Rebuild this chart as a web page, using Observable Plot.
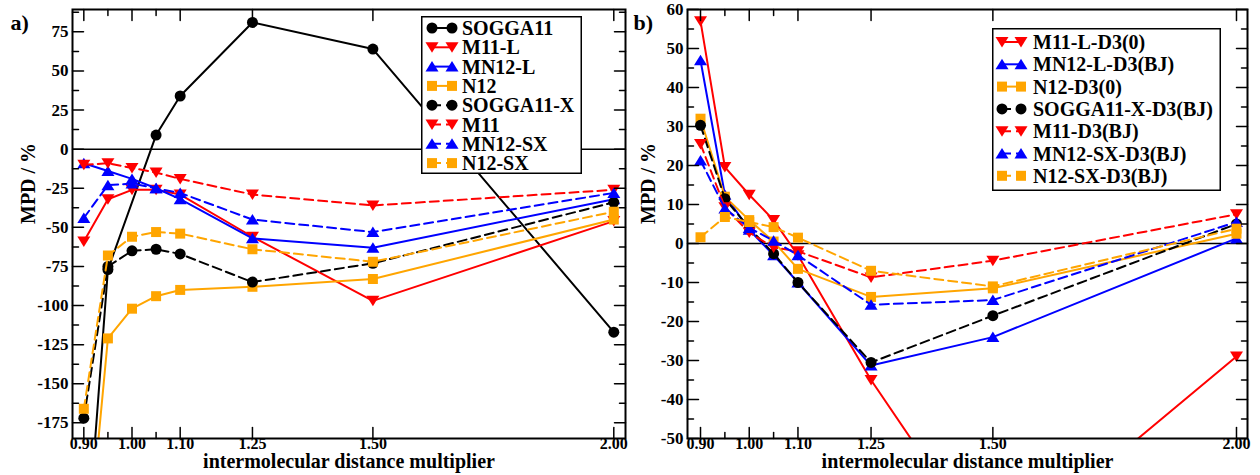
<!DOCTYPE html>
<html>
<head>
<meta charset="utf-8">
<script src="https://cdn.jsdelivr.net/npm/d3@7"></script>
<script src="https://cdn.jsdelivr.net/npm/@observablehq/plot@0.6"></script>
<style>
  html, body { margin: 0; padding: 0; background: #fff; }
  #wrap { position: relative; width: 1260px; height: 475px; display: flex; overflow: hidden;
          font-family: "Liberation Serif", Tinos, "Times New Roman", Times, "DejaVu Serif", "Noto Serif", serif; font-weight: bold; }
  .panel { position: relative; width: 630px; height: 475px; }
  svg text { font-family: "Liberation Serif", Tinos, "Times New Roman", Times, "DejaVu Serif", "Noto Serif", serif !important; }
</style>
</head>
<body>
<div id="wrap">
  <div class="panel" id="pa"></div>
  <div class="panel" id="pb"></div>
</div>
<script>
// ---------- data ----------
const xValues = [0.90, 0.95, 1.00, 1.05, 1.10, 1.25, 1.50, 2.00];
const xMajorTicks = [0.90, 1.00, 1.10, 1.25, 1.50, 2.00];
const xMinorTicks = [0.95, 1.05];
const xTickLabels = ["0.90", "1.00", "1.10", "1.25", "1.50", "2.00"];
const xTitle = "intermolecular distance multiplier";
const yTitle = "MPD / %";

// panel a
const aNames = ["SOGGA11", "M11-L", "MN12-L", "N12", "SOGGA11-X", "M11", "MN12-SX", "N12-SX"];
const aSOGGA11  = [-282, -77, null, 9, 34, 81, 64, -117];
const aM11L     = [-59, -32, -26, -26, -29, -56, -97, -46];
const aMN12L    = [-9, -14, -19, -25, -32, -57, -63, -32];
const aN12      = [-285, -121, -102, -94, -90, -88, -83, -45];
const aSOGGA11X = [-172, -75, -65, -64, -67, -85, -73, -34];
const aM11      = [-10, -9, -12, -15, -19, -29, -36, -26];
const aMN12SX   = [-44, -23, -22, -25, -28, -45, -53, -28];
const aN12SX    = [-166, -68, -56, -53, -54, -64, -72, -40];
const aYMajorTicks = [75, 50, 25, 0, -25, -50, -75, -100, -125, -150, -175];
const aYMinorTicks = [87.5, 62.5, 37.5, 12.5, -12.5, -37.5, -62.5, -87.5, -112.5, -137.5, -162.5];

// panel b
const bNames = ["M11-L-D3(0)", "MN12-L-D3(BJ)", "N12-D3(0)", "SOGGA11-X-D3(BJ)", "M11-D3(BJ)", "MN12-SX-D3(BJ)", "N12-SX-D3(BJ)"];
const bM11L     = [57, 19.6, 12.5, 6, -3, -35, -81, -29];
const bMN12L    = [47, 12.5, 3.5, -3, -10, -31.3, -24, 1.3];
const bN12      = [32, 12, 6, 0.5, -6.5, -13.7, -11.5, 2.5];
const bSOGGA11X = [30.3, 11.5, 4, -2.6, -10, -30.5, -18.5, 5];
const bM11      = [25.5, 9.3, 2.8, -1, -2, -8.7, -4.4, 7.5];
const bMN12SX   = [21.3, 9, 4, 0.7, -3, -15.7, -14.5, 5.5];
const bN12SX    = [1.6, 6.8, 5.5, 4.2, 1.5, -7, -11, 3.8];
const bYMajorTicks = [60, 50, 40, 30, 20, 10, 0, -10, -20, -30, -40, -50];
const bYMinorTicks = [55, 45, 35, 25, 15, 5, -5, -15, -25, -35, -45];

// ---------- styles ----------
const FONT = "'Liberation Serif', Tinos, 'Times New Roman', Times, 'DejaVu Serif', 'Noto Serif', serif";
const RED = "#ff0000", BLUE = "#0000ff", ORANGE = "#ffa500", BLACK = "#000000";
const symCircle = {draw(c) { c.moveTo(5.5, 0); c.arc(0, 0, 5.5, 0, 2 * Math.PI); c.closePath(); }};
const symSquare = {draw(c) { c.moveTo(-5, -5); c.lineTo(5, -5); c.lineTo(5, 5); c.lineTo(-5, 5); c.closePath(); }};
const symTriUp = {draw(c) { c.moveTo(0, -5.5); c.lineTo(6.5, 5); c.lineTo(-6.5, 5); c.closePath(); }};
const symTriDown = {draw(c) { c.moveTo(0, 5.5); c.lineTo(6.5, -5); c.lineTo(-6.5, -5); c.closePath(); }};
const tickShape = {draw(c, l) { c.moveTo(0, 0); c.lineTo(0, -l); }};
const DASH = "9,5";

const aSeries = [
  {name: aNames[0], values: aSOGGA11,  color: BLACK,  symbol: symCircle,  dashed: false},
  {name: aNames[1], values: aM11L,     color: RED,    symbol: symTriDown, dashed: false},
  {name: aNames[2], values: aMN12L,    color: BLUE,   symbol: symTriUp,   dashed: false},
  {name: aNames[3], values: aN12,      color: ORANGE, symbol: symSquare,  dashed: false},
  {name: aNames[4], values: aSOGGA11X, color: BLACK,  symbol: symCircle,  dashed: true},
  {name: aNames[5], values: aM11,      color: RED,    symbol: symTriDown, dashed: true},
  {name: aNames[6], values: aMN12SX,   color: BLUE,   symbol: symTriUp,   dashed: true},
  {name: aNames[7], values: aN12SX,    color: ORANGE, symbol: symSquare,  dashed: true}
];
const bSeries = [
  {name: bNames[0], values: bM11L,     color: RED,    symbol: symTriDown, dashed: false},
  {name: bNames[1], values: bMN12L,    color: BLUE,   symbol: symTriUp,   dashed: false},
  {name: bNames[2], values: bN12,      color: ORANGE, symbol: symSquare,  dashed: false},
  {name: bNames[3], values: bSOGGA11X, color: BLACK,  symbol: symCircle,  dashed: true},
  {name: bNames[4], values: bM11,      color: RED,    symbol: symTriDown, dashed: true},
  {name: bNames[5], values: bMN12SX,   color: BLUE,   symbol: symTriUp,   dashed: true},
  {name: bNames[6], values: bN12SX,    color: ORANGE, symbol: symSquare,  dashed: true}
];

function panel(cfg) {
  const marks = [];
  marks.push(Plot.ruleY([0], {stroke: BLACK, strokeWidth: 1.5}));
  for (const s of cfg.series) {
    const rows = xValues.map((x, i) => ({x, y: s.values[i]})).filter(d => d.y != null);
    marks.push(Plot.line(rows, {x: "x", y: "y", stroke: s.color, strokeWidth: 2,
      strokeDasharray: s.dashed ? DASH : null, clip: true}));
    marks.push(Plot.dot(rows, {x: "x", y: "y", symbol: s.symbol, fill: s.color, stroke: "none", r: 5, clip: true}));
  }
  const tk = (data, chan, anchor, rot, len) => Plot.vector(data, {[chan]: d => d, frameAnchor: anchor,
    rotate: rot, length: len, anchor: "start", shape: tickShape, stroke: BLACK, strokeWidth: 1.5});
  marks.push(tk(xMajorTicks, "x", "bottom", 0, 11), tk(xMinorTicks, "x", "bottom", 0, 6));
  marks.push(tk(xMajorTicks, "x", "top", 180, 11), tk(xMinorTicks, "x", "top", 180, 6));
  marks.push(tk(cfg.yMajor, "y", "left", 90, 11), tk(cfg.yMinor, "y", "left", 90, 6));
  marks.push(tk(cfg.yMajor, "y", "right", -90, 11), tk(cfg.yMinor, "y", "right", -90, 6));
  marks.push(Plot.frame({stroke: BLACK, strokeWidth: 2}));
  marks.push(Plot.text(xMajorTicks, {x: d => d, frameAnchor: "bottom", dy: 10,
    text: (d, i) => xTickLabels[i], fontSize: 16, fontWeight: "bold", fill: BLACK}));
  marks.push(Plot.text(cfg.yMajor, {y: d => d, frameAnchor: "left", dx: -4, textAnchor: "end",
    text: d => String(d), fontSize: 17, fontWeight: "bold", fill: BLACK}));
  marks.push(Plot.text([xTitle], {frameAnchor: "bottom", dy: 29, text: d => d, fontSize: 20, fontWeight: "bold", fill: BLACK}));
  marks.push(Plot.text([yTitle], {frameAnchor: "left", dx: cfg.yTitleX - cfg.marginLeft, rotate: -90,
    text: d => d, fontSize: 20, fontWeight: "bold", fill: BLACK}));
  marks.push(Plot.text([cfg.tag], {frameAnchor: "top-left", dx: cfg.tagX - cfg.marginLeft, dy: 5, textAnchor: "start",
    text: d => d, fontSize: 22, fontWeight: "bold", fill: BLACK}));
  return Plot.plot({
    width: 630, height: 475,
    marginLeft: cfg.marginLeft, marginRight: cfg.marginRight, marginTop: 9, marginBottom: 37,
    x: {domain: cfg.xDomain, axis: null},
    y: {domain: cfg.yDomain, axis: null},
    style: {fontFamily: FONT, fontWeight: "bold", background: "#fff", overflow: "visible"},
    marks
  });
}

document.getElementById("pa").append(panel({
  series: aSeries, xDomain: [0.8765, 2.0243], yDomain: [-185, 89.3],
  yMajor: aYMajorTicks, yMinor: aYMinorTicks, marginLeft: 72, marginRight: 5,
  yTitleX: 28, tag: "a)", tagX: 10
}));
document.getElementById("pb").append(panel({
  series: bSeries, xDomain: [0.8733, 2.0226], yDomain: [-50, 60],
  yMajor: bYMajorTicks, yMinor: bYMinorTicks, marginLeft: 57, marginRight: 13,
  yTitleX: 18, tag: "b)", tagX: 3
}));

function legend(series, o) {
  const svg = d3.select("#wrap").append("svg")
    .attr("width", o.width).attr("height", o.height)
    .style("position", "absolute").style("left", o.left + "px").style("top", o.top + "px")
    .style("overflow", "visible");
  svg.append("rect").attr("x", 0.75).attr("y", 0.75).attr("width", o.width - 1.5).attr("height", o.height - 1.5)
    .attr("fill", "#fff").attr("stroke", BLACK).attr("stroke-width", 1.5);
  series.forEach((s, i) => {
    const y = o.y0 + i * o.dy;
    svg.append("line").attr("x1", o.m1).attr("x2", o.m2).attr("y1", y).attr("y2", y)
      .attr("stroke", s.color).attr("stroke-width", 2).attr("stroke-dasharray", s.dashed ? DASH : null);
    for (const mx of [o.m1, o.m2]) {
      const p = d3.path(); s.symbol.draw(p);
      svg.append("path").attr("d", p.toString()).attr("transform", `translate(${mx},${y})`).attr("fill", s.color);
    }
    svg.append("text").attr("x", o.tx).attr("y", y).attr("dy", "0.35em")
      .style("font-family", FONT).attr("font-weight", "bold")
      .attr("font-size", 20).attr("fill", BLACK).text(s.name);
  });
}
legend(aSeries, {left: 421, top: 16, width: 161, height: 158, y0: 12, dy: 19.3, m1: 11, m2: 31, tx: 41});
legend(bSeries, {left: 992, top: 28, width: 229, height: 163, y0: 14, dy: 22.3, m1: 10, m2: 29, tx: 41});
</script>
</body>
</html>
